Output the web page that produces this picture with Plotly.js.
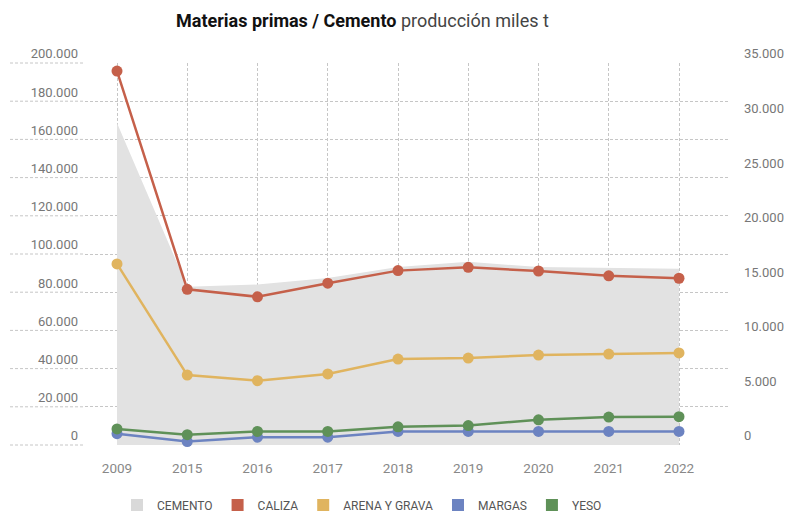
<!DOCTYPE html>
<html>
<head>
<meta charset="utf-8">
<script src="https://cdn.plot.ly/plotly-3.0.1.min.js"></script>
<style>html,body{margin:0;padding:0;background:#fff;}#chart{width:799px;height:514px;}</style>
</head>
<body>
<div id="chart"></div>
<script>
const years = ['2009','2015','2016','2017','2018','2019','2020','2021','2022'];
const cemento = [29500, 14500, 14700, 15300, 16300, 16800, 16300, 16200, 16150];
const caliza  = [195800, 81500, 77600, 84700, 91300, 93000, 91100, 88600, 87300];
const arena   = [94800, 36600, 33700, 37200, 45000, 45500, 47100, 47600, 48200];
const margas  = [5900, 1800, 4100, 4100, 7100, 7100, 7100, 7100, 7100];
const yeso    = [8400, 5400, 7100, 7100, 9500, 10200, 13200, 14600, 14800];
const leftTicks  = [0, 20000, 40000, 60000, 80000, 100000, 120000, 140000, 160000, 180000, 200000];
const rightTicks = [0, 5000, 10000, 15000, 20000, 25000, 30000, 35000];
const names  = ['CEMENTO', 'CALIZA', 'ARENA Y GRAVA', 'MARGAS', 'YESO'];
const colors = ['#d9d9d9', '#c5604a', '#e0b45f', '#6c83c1', '#5f9158'];

const FONT = 'Roboto, "Open Sans", sans-serif';
const GRID = '#c6c6c6';
const DASH = '3px,2px';

const lineSeries = [caliza, arena, margas, yeso];
const traces = [];
traces.push({
  x: years, y: cemento, type: 'scatter', mode: 'lines', yaxis: 'y',
  fill: 'tozeroy', fillcolor: '#e2e2e2', line: {width: 0, color: '#e2e2e2'},
  showlegend: false, hoverinfo: 'skip'
});
lineSeries.forEach((s, i) => {
  traces.push({
    x: years, y: s, type: 'scatter', mode: 'lines+markers', yaxis: 'y2',
    line: {color: colors[i + 1], width: 2.5},
    marker: {color: colors[i + 1], size: 11},
    cliponaxis: false, showlegend: false, name: names[i + 1]
  });
});
names.forEach((n, i) => {
  traces.push({x: [null], y: [null], type: 'bar', name: n, marker: {color: colors[i]}, showlegend: true, yaxis: 'y'});
});

const shapes = leftTicks.map(v => ({
  type: 'line', xref: 'paper', yref: 'paper', x0: -0.1166, x1: 0, y0: v / 200000, y1: v / 200000,
  line: {color: GRID, width: 1, dash: DASH}, layer: 'below'
}));

const layout = {
  width: 799, height: 514,
  margin: {l: 85, r: 71, t: 63, b: 69},
  paper_bgcolor: '#fff', plot_bgcolor: '#fff',
  separators: ',.',
  font: {family: FONT, size: 13, color: '#777'},
  title: {
    text: '<b>Materias primas / Cemento</b> <span style="color:#444">producción miles t</span>',
    font: {family: FONT, size: 18, color: '#111'},
    xref: 'container', x: 176 / 799, xanchor: 'left',
    yref: 'container', y: 1 - 21 / 514, yanchor: 'middle'
  },
  xaxis: {
    type: 'category', range: [-0.4555, 8.6975],
    showgrid: true, gridcolor: GRID, griddash: DASH, gridwidth: 1,
    showline: false, zeroline: false, ticks: '',
    tickfont: {family: FONT, size: 13.5, color: '#888'},
    ticklabelstandoff: 13
  },
  yaxis: {
    range: [0, 35000], side: 'right', showgrid: false, zeroline: false, showline: false,
    tickmode: 'array', tickvals: rightTicks, tickformat: ',.0f',
    ticklabelposition: 'outside top', ticks: '',
    tickfont: {family: FONT, size: 13, color: '#777'}, ticklabelstandoff: 15
  },
  yaxis2: {
    range: [0, 200000], side: 'left', overlaying: 'y',
    showgrid: true, gridcolor: GRID, griddash: DASH, gridwidth: 1,
    zeroline: false, showline: false,
    tickmode: 'array', tickvals: leftTicks, tickformat: ',.0f',
    ticklabelposition: 'outside top', ticks: '',
    tickfont: {family: FONT, size: 13, color: '#777'}, ticklabelstandoff: 6
  },
  shapes: shapes,
  showlegend: true,
  legend: {
    orientation: 'h', xref: 'container', yref: 'container',
    x: 117 / 799, xanchor: 'left', y: 1 - 505 / 514, yanchor: 'middle',
    font: {family: FONT, size: 12, color: '#555'}, itemwidth: 30,
    bgcolor: 'rgba(0,0,0,0)'
  },
  hovermode: false
};

Plotly.newPlot('chart', traces, layout, {displayModeBar: false, staticPlot: true});
</script>
</body>
</html>
